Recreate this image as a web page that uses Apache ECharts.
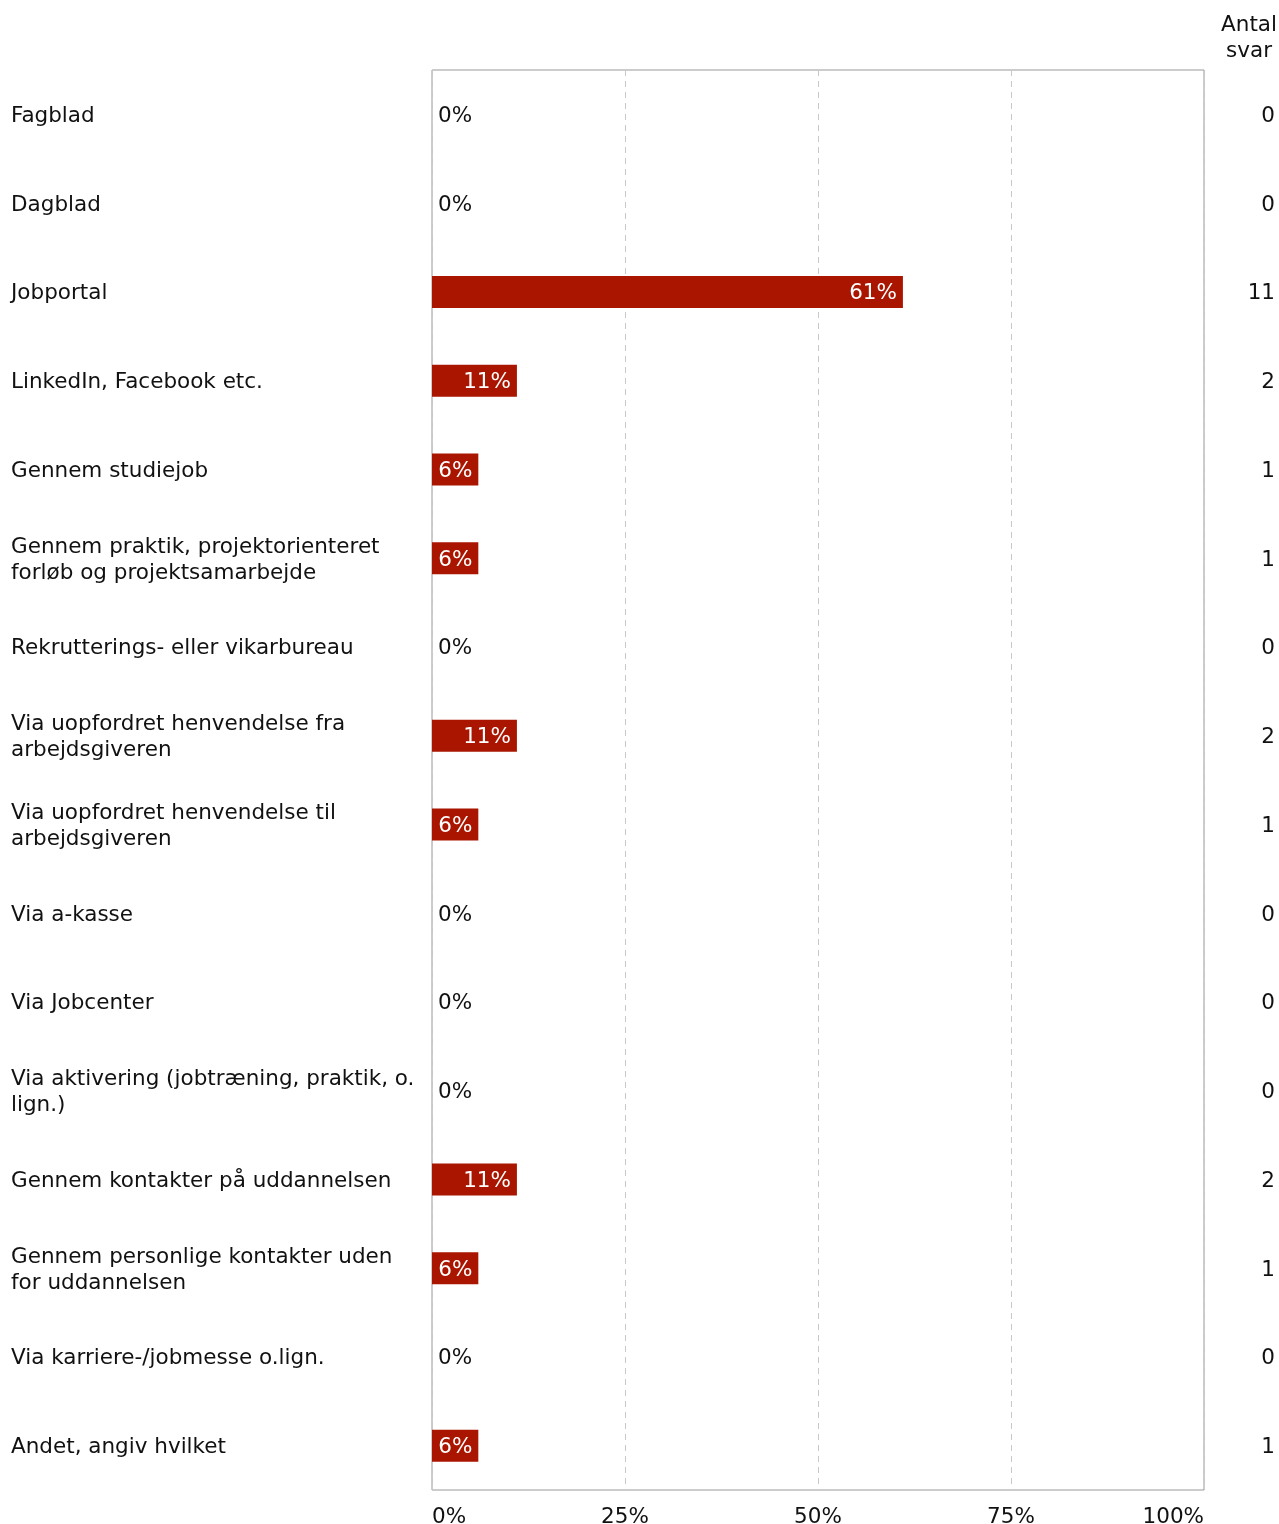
<!DOCTYPE html>
<html>
<head>
<meta charset="utf-8">
<script src="https://cdn.jsdelivr.net/npm/echarts@6/dist/echarts.min.js"></script>
<style>html,body{margin:0;padding:0;background:#fff}#c{width:1279px;height:1524px}</style>
</head>
<body>
<div id="c"></div>
<script>
const categories = [
  "Fagblad",
  "Dagblad",
  "Jobportal",
  "LinkedIn, Facebook etc.",
  "Gennem studiejob",
  "Gennem praktik, projektorienteret\nforløb og projektsamarbejde",
  "Rekrutterings- eller vikarbureau",
  "Via uopfordret henvendelse fra\narbejdsgiveren",
  "Via uopfordret henvendelse til\narbejdsgiveren",
  "Via a-kasse",
  "Via Jobcenter",
  "Via aktivering (jobtræning, praktik, o.\nlign.)",
  "Gennem kontakter på uddannelsen",
  "Gennem personlige kontakter uden\nfor uddannelsen",
  "Via karriere-/jobmesse o.lign.",
  "Andet, angiv hvilket"
];
const percentValues = [0, 0, 61, 11, 6, 6, 0, 11, 6, 0, 0, 0, 11, 6, 0, 6];
const answerCounts = [0, 0, 11, 2, 1, 1, 0, 2, 1, 0, 0, 0, 2, 1, 0, 1];
const countHeader = "Antal\nsvar";

const FONT = "DejaVu Sans";
const FS = 21.5;
const chart = echarts.init(document.getElementById('c'), null, {renderer: 'canvas'});

const barData = percentValues.map(v => ({
  value: v,
  label: v > 0
    ? {position: 'insideRight', distance: 6, color: '#ffffff'}
    : {position: 'right', distance: 6, color: '#111111'}
}));

chart.setOption({
  animation: false,
  backgroundColor: '#ffffff',
  textStyle: {fontFamily: FONT},
  title: {
    text: countHeader,
    left: 1244,
    top: 7,
    textAlign: 'center',
    textStyle: {fontFamily: FONT, fontSize: FS, fontWeight: 'normal', color: '#111', lineHeight: 26, align: 'center'}
  },
  grid: [
    {
      left: 432, right: 75, top: 70, bottom: 34,
      show: true, borderColor: '#999999', borderWidth: 1,
      containLabel: false,
      outerBoundsMode: 'none'
    },
    {
      left: 432, right: 75, top: 72, bottom: 32,
      show: false,
      containLabel: false,
      outerBoundsMode: 'none'
    }
  ],
  xAxis: [
    {
      type: 'value',
      gridIndex: 0,
      min: 0, max: 100, interval: 25,
      axisLine: {show: false},
      axisTick: {show: false},
      splitLine: {show: true, lineStyle: {color: '#c8c8c8', type: [6, 5], width: 1}},
      axisLabel: {
        formatter: '{value}%',
        fontFamily: FONT, fontSize: FS, color: '#111',
        margin: 16,
        alignMinLabel: 'left', alignMaxLabel: 'right'
      }
    },
    {
      type: 'value',
      gridIndex: 1,
      min: 0, max: 100,
      show: false
    }
  ],
  yAxis: [
    {
      type: 'category',
      gridIndex: 0,
      data: categories,
      inverse: true,
      axisLine: {show: false},
      axisTick: {show: false},
      splitLine: {show: false},
      axisLabel: {show: false}
    },
    {
      type: 'category',
      gridIndex: 1,
      data: categories,
      inverse: true,
      position: 'left',
      axisLine: {show: false},
      axisTick: {show: false},
      splitLine: {show: false},
      axisLabel: {
        align: 'left', margin: 421,
        fontFamily: FONT, fontSize: FS, color: '#111', lineHeight: 26
      }
    },
    {
      type: 'category',
      gridIndex: 1,
      data: answerCounts.map(String),
      inverse: true,
      position: 'right',
      axisLine: {show: false},
      axisTick: {show: false},
      splitLine: {show: false},
      axisLabel: {
        align: 'right', margin: 71,
        fontFamily: FONT, fontSize: FS, color: '#111'
      }
    }
  ],
  series: [{
    type: 'bar',
    xAxisIndex: 0,
    yAxisIndex: 0,
    data: barData,
    barWidth: 32,
    itemStyle: {color: '#aa1500'},
    label: {
      show: true,
      offset: [0, 2],
      formatter: p => p.value + '%',
      fontFamily: FONT, fontSize: FS
    }
  }]
});
</script>
</body>
</html>
